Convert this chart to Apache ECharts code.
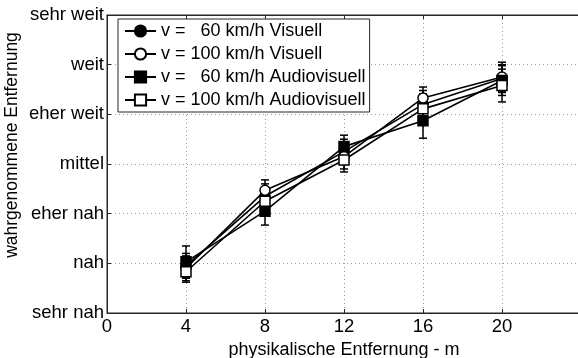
<!DOCTYPE html>
<html>
<head>
<meta charset="utf-8">
<script src="https://cdn.jsdelivr.net/npm/echarts@6/dist/echarts.min.js"></script>
<style>
  html, body { margin: 0; padding: 0; background: #fff; }
  #chart { width: 578px; height: 358px; }
</style>
</head>
<body>
<div id="chart"></div>
<script>
const distances = [4, 8, 12, 16, 20];
const levelLabels = ['sehr nah', 'nah', 'eher nah', 'mittel', 'eher weit', 'weit', 'sehr weit'];
const xTicks = [0, 4, 8, 12, 16, 20];

const v60Visual = [1.95, 3.35, 4.25, 5.2, 5.72];
const v100Visual = [1.9, 3.47, 4.15, 5.33, 5.75];
const v60Audio = [2.03, 3.05, 4.35, 4.87, 5.68];
const v100Audio = [1.83, 3.25, 4.08, 5.11, 5.58];

const v60VisualErr = [0.25, 0.25, 0.25, 0.28, 0.28];
const v100VisualErr = [0.25, 0.21, 0.25, 0.22, 0.3];
const v60AudioErr = [0.32, 0.28, 0.23, 0.35, 0.3];
const v100AudioErr = [0.21, 0.25, 0.24, 0.3, 0.33];

const seriesNames = [
  'v =   60 km/h Visuell',
  'v = 100 km/h Visuell',
  'v =   60 km/h Audiovisuell',
  'v = 100 km/h Audiovisuell'
];

const font = 'Liberation Sans, Arial, sans-serif';
const fontSize = 18.5;

function lineSeries(name, values, symbol, filled) {
  return {
    name: name,
    type: 'line',
    data: distances.map((d, i) => [d, values[i]]),
    symbol: symbol,
    symbolSize: 10,
    z: 3,
    lineStyle: { color: '#000', width: 1.6 },
    itemStyle: { color: filled ? '#000' : '#fff', borderColor: '#000', borderWidth: 1.5 },
    emphasis: { disabled: true }
  };
}

function errorSeries(name, values, errs) {
  return {
    name: name + ' err',
    type: 'custom',
    z: 2,
    data: distances.map((d, i) => [d, values[i] - errs[i], values[i] + errs[i]]),
    renderItem: function (params, api) {
      const lo = api.coord([api.value(0), api.value(1)]);
      const hi = api.coord([api.value(0), api.value(2)]);
      const w = 4;
      const style = { stroke: '#000', lineWidth: 1.5 };
      return {
        type: 'group',
        children: [
          { type: 'line', shape: { x1: lo[0], y1: lo[1], x2: hi[0], y2: hi[1] }, style: style },
          { type: 'line', shape: { x1: lo[0] - w, y1: lo[1], x2: lo[0] + w, y2: lo[1] }, style: style },
          { type: 'line', shape: { x1: hi[0] - w, y1: hi[1], x2: hi[0] + w, y2: hi[1] }, style: style }
        ]
      };
    }
  };
}

const chart = echarts.init(document.getElementById('chart'));

chart.setOption({
  animation: false,
  backgroundColor: '#fff',
  textStyle: { fontFamily: font },
  grid: {
    left: 107, top: 15, right: -3, bottom: 45,
    outerBoundsMode: 'none',
    containLabel: false,
    show: true, borderColor: '#262626', borderWidth: 1
  },
  legend: {
    data: seriesNames,
    orient: 'vertical',
    left: 118,
    top: 19,
    padding: [3, 4, 3, 6],
    itemGap: 5,
    itemWidth: 31,
    itemHeight: 14,
    backgroundColor: '#fff',
    borderColor: '#262626',
    borderWidth: 1,
    borderRadius: 0,
    textStyle: { color: '#000', fontSize: 18, fontFamily: font }
  },
  xAxis: [{
    type: 'value',
    min: 0,
    max: 24,
    interval: 4,
    name: 'physikalische Entfernung - m',
    nameLocation: 'middle',
    nameGap: 21,
    nameTextStyle: { color: '#000', fontSize: 18, fontFamily: font },
    axisLine: { show: true, lineStyle: { color: '#262626' } },
    axisTick: { show: true, inside: true, length: 4, lineStyle: { color: '#262626' } },
    axisLabel: {
      color: '#000', fontSize: fontSize, fontFamily: font, margin: 4,
      formatter: v => xTicks.includes(v) ? String(v) : ''
    },
    splitLine: { show: true, lineStyle: { color: '#9a9a9a', type: [1, 3] } }
  }, {
    type: 'value',
    position: 'top',
    min: 0,
    max: 24,
    interval: 4,
    axisLine: { show: true, lineStyle: { color: '#262626' } },
    axisTick: { show: true, inside: true, length: 4, lineStyle: { color: '#262626' } },
    axisLabel: { show: false },
    splitLine: { show: false }
  }],
  yAxis: {
    type: 'value',
    min: 1,
    max: 7,
    interval: 1,
    axisLine: { show: true, lineStyle: { color: '#262626' } },
    axisTick: { show: true, inside: true, length: 4, lineStyle: { color: '#262626' } },
    axisLabel: {
      color: '#000', fontSize: fontSize, fontFamily: font, margin: 3,
      formatter: v => levelLabels[Math.round(v) - 1] || ''
    },
    splitLine: { show: true, lineStyle: { color: '#9a9a9a', type: [1, 3] } }
  },
  graphic: [{
    type: 'text',
    x: 12,
    y: 145,
    rotation: Math.PI / 2,
    style: {
      text: 'wahrgenommene Entfernung',
      fill: '#000',
      font: '17.5px ' + font,
      textAlign: 'center',
      textVerticalAlign: 'middle'
    }
  }],
  series: [
    errorSeries(seriesNames[0], v60Visual, v60VisualErr),
    errorSeries(seriesNames[1], v100Visual, v100VisualErr),
    errorSeries(seriesNames[2], v60Audio, v60AudioErr),
    errorSeries(seriesNames[3], v100Audio, v100AudioErr),
    lineSeries(seriesNames[0], v60Visual, 'circle', true),
    lineSeries(seriesNames[1], v100Visual, 'circle', false),
    lineSeries(seriesNames[2], v60Audio, 'rect', true),
    lineSeries(seriesNames[3], v100Audio, 'rect', false)
  ]
});
</script>
</body>
</html>
